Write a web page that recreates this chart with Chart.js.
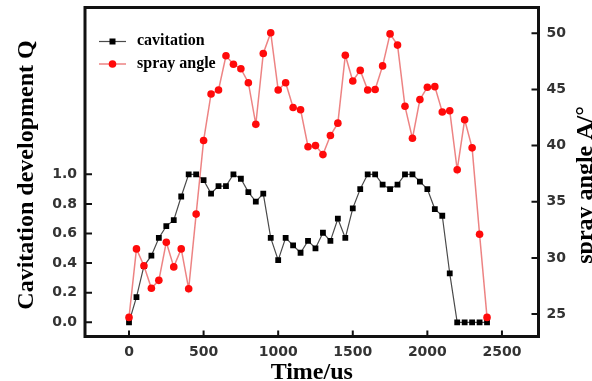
<!DOCTYPE html>
<html>
<head>
<meta charset="utf-8">
<script src="https://cdn.jsdelivr.net/npm/chart.js@4.4.0/dist/chart.umd.min.js"></script>
<style>
  html, body { margin: 0; padding: 0; background: #fff; }
</style>
</head>
<body>
<canvas id="cavitacionChart" width="592" height="381"></canvas>
<script>
// Tiempos (us), cada 50 us
var tiempos = [
  0, 50, 100, 150, 200, 250, 300, 350, 400, 450,
  500, 550, 600, 650, 700, 750, 800, 850, 900, 950,
  1000, 1050, 1100, 1150, 1200, 1250, 1300, 1350, 1400, 1450,
  1500, 1550, 1600, 1650, 1700, 1750, 1800, 1850, 1900, 1950,
  2000, 2050, 2100, 2150, 2200, 2250, 2300, 2350, 2400
];

// Desarrollo de cavitacion Q (eje izquierdo)
var cavitacion = [
  0.0, 0.17, 0.38, 0.45, 0.57, 0.65, 0.69, 0.85, 1.0, 1.0,
  0.96, 0.87, 0.92, 0.92, 1.0, 0.97, 0.88, 0.815, 0.87, 0.57,
  0.42, 0.57, 0.52, 0.47, 0.55, 0.50, 0.605, 0.55, 0.70, 0.57,
  0.77, 0.90, 1.0, 1.0, 0.93, 0.90, 0.93, 1.0, 1.0, 0.95,
  0.90, 0.765, 0.72, 0.33, 0.0, 0.0, 0.0, 0.0, 0.0
];

// Angulo de spray A (grados, eje derecho)
var anguloSpray = [
  24.7, 30.8, 29.3, 27.3, 28.0, 31.4, 29.2, 30.8, 27.25, 33.9,
  40.45, 44.6, 44.95, 48.0, 47.25, 46.85, 45.6, 41.9, 48.2, 50.05,
  44.95, 45.6, 43.4, 43.2, 39.9, 40.0, 39.2, 40.9, 42.0, 48.05,
  45.75, 46.7, 44.95, 45.0, 47.1, 49.95, 48.95, 43.5, 40.65, 44.1,
  45.2, 45.25, 43.0, 43.1, 37.85, 42.3, 39.8, 32.1, 24.7
];

// Marcas de los ejes
var ticksX = [0, 500, 1000, 1500, 2000, 2500];
var ticksQ = [0.0, 0.2, 0.4, 0.6, 0.8, 1.0];
var ticksA = [25, 30, 35, 40, 45, 50];

function puntos(valores) {
  return tiempos.map(function (t, i) {
    return { x: t, y: valores[i] };
  });
}

var fuenteTicks = { family: 'DejaVu Sans', weight: 'bold', size: 14 };

// Quitar el relleno automatico que Chart.js deja para las etiquetas extremas
function sinRelleno(s) {
  s.paddingTop = 0; s.paddingBottom = 0;
  s.paddingLeft = 0; s.paddingRight = 0;
}

// Marco, marcas hacia dentro, titulos y leyenda dentro del area
var marcoPlugin = {
  id: 'marco',
  afterDraw: function (chart) {
    var ctx = chart.ctx;
    var a = chart.chartArea;
    var sx = chart.scales.x, sq = chart.scales.yQ, sa = chart.scales.yA;
    ctx.save();

    // marcas
    ctx.strokeStyle = '#111';
    ctx.lineWidth = 2;
    ctx.beginPath();
    sx.ticks.forEach(function (t) {
      var p = sx.getPixelForValue(t.value);
      ctx.moveTo(p, a.bottom); ctx.lineTo(p, a.bottom - 6);
    });
    sq.ticks.forEach(function (t) {
      var p = sq.getPixelForValue(t.value);
      ctx.moveTo(a.left, p); ctx.lineTo(a.left + 7, p);
    });
    sa.ticks.forEach(function (t) {
      var p = sa.getPixelForValue(t.value);
      ctx.moveTo(a.right, p); ctx.lineTo(a.right - 7, p);
    });
    ctx.stroke();

    // marco
    ctx.lineWidth = 3;
    ctx.strokeStyle = '#111';
    ctx.strokeRect(a.left, a.top, a.right - a.left, a.bottom - a.top);

    // titulos de los ejes
    ctx.fillStyle = '#000';
    ctx.font = 'bold 24px "Liberation Serif"';
    ctx.textAlign = 'center';
    ctx.textBaseline = 'alphabetic';
    ctx.fillText('Time/us', (a.left + a.right) / 2, 379);

    ctx.save();
    ctx.translate(33, 175);
    ctx.rotate(-Math.PI / 2);
    ctx.fillText('Cavitation development Q', 0, 0);
    ctx.restore();

    ctx.save();
    ctx.translate(592, 185);
    ctx.rotate(-Math.PI / 2);
    ctx.fillText('spray angle A/\u00B0', 0, 0);
    ctx.restore();

    // leyenda
    var ds = chart.data.datasets;
    var lx = a.left + 14, mx = a.left + 27.5, tx = a.left + 52;
    var filas = [a.top + 34, a.top + 56.5];
    ctx.font = 'bold 16px "Liberation Serif"';
    ctx.textAlign = 'left';
    ds.forEach(function (d, i) {
      var y = filas[i];
      ctx.strokeStyle = d.borderColor;
      ctx.lineWidth = d.borderWidth;
      ctx.beginPath();
      ctx.moveTo(lx, y); ctx.lineTo(lx + 27, y);
      ctx.stroke();
      ctx.fillStyle = d.pointBackgroundColor;
      if (d.pointStyle === 'rect') {
        ctx.fillRect(mx - 3, y - 3, 6, 6);
      } else {
        ctx.beginPath();
        ctx.arc(mx, y, 3.8, 0, Math.PI * 2);
        ctx.fill();
      }
      ctx.fillStyle = '#000';
      ctx.fillText(d.label, tx, y + 3.5);
    });
    ctx.restore();
  }
};

var ctx = document.getElementById('cavitacionChart').getContext('2d');
var grafico = new Chart(ctx, {
  type: 'line',
  data: {
    datasets: [{
      label: 'cavitation',
      data: puntos(cavitacion),
      yAxisID: 'yQ',
      borderColor: '#4a4a4a',
      borderWidth: 1.2,
      pointStyle: 'rect',
      pointRadius: 4.1,
      pointBorderWidth: 0,
      pointBackgroundColor: '#000',
      tension: 0,
      order: 2
    }, {
      label: 'spray angle',
      data: puntos(anguloSpray),
      yAxisID: 'yA',
      borderColor: 'rgba(232, 100, 100, 0.8)',
      borderWidth: 1.5,
      pointStyle: 'circle',
      pointRadius: 3.8,
      pointBorderWidth: 0,
      pointBackgroundColor: '#ff0a0a',
      tension: 0,
      order: 1
    }]
  },
  options: {
    responsive: false,
    animation: false,
    devicePixelRatio: 1,
    layout: { padding: { top: 7.5, left: 0, right: 0, bottom: 0 } },
    plugins: { legend: { display: false }, tooltip: { enabled: false } },
    scales: {
      x: {
        type: 'linear',
        position: 'bottom',
        min: -295,
        max: 2745,
        grid: { display: false, drawTicks: false },
        border: { display: false },
        ticks: {
          font: fuenteTicks, color: '#333', padding: 7,
          callback: function (v) { return String(v); }
        },
        afterBuildTicks: function (s) { s.ticks = ticksX.map(function (v) { return { value: v }; }); },
        afterFit: function (s) { s.height = 44.5; sinRelleno(s); }
      },
      yQ: {
        type: 'linear',
        position: 'left',
        min: -0.096,
        max: 2.127,
        grid: { display: false, drawTicks: false },
        border: { display: false },
        ticks: {
          font: fuenteTicks, color: '#333', padding: 8,
          callback: function (v) { return Number(v).toFixed(1); }
        },
        afterBuildTicks: function (s) { s.ticks = ticksQ.map(function (v) { return { value: v }; }); },
        afterFit: function (s) { s.width = 85; sinRelleno(s); }
      },
      yA: {
        type: 'linear',
        position: 'right',
        min: 23,
        max: 52.3,
        grid: { display: false, drawTicks: false },
        border: { display: false },
        ticks: {
          font: fuenteTicks, color: '#333', padding: 8,
          callback: function (v) { return String(v); }
        },
        afterBuildTicks: function (s) { s.ticks = ticksA.map(function (v) { return { value: v }; }); },
        afterFit: function (s) { s.width = 53.5; sinRelleno(s); }
      }
    }
  },
  plugins: [marcoPlugin]
});
</script>
</body>
</html>
